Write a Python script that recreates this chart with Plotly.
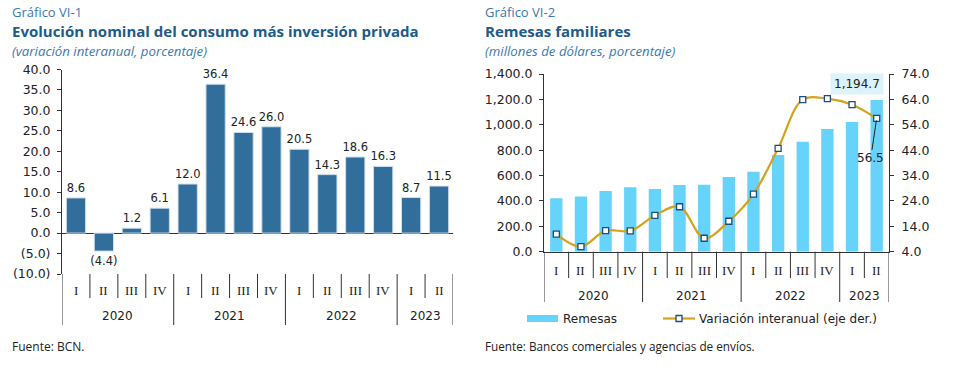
import plotly.graph_objects as go

# ---------------- data ----------------
quarters = ["I", "II", "III", "IV", "I", "II", "III", "IV", "I", "II", "III", "IV", "I", "II"]
years = ["2020", "2021", "2022", "2023"]
year_counts = [4, 4, 4, 2]

consumo_inversion = [8.6, -4.4, 1.2, 6.1, 12.0, 36.4, 24.6, 26.0, 20.5, 14.3, 18.6, 16.3, 8.7, 11.5]

remesas = [421, 434, 478, 507, 494, 526, 527, 589, 630, 762, 867, 967, 1022, 1194.7]
variacion = [10.9, 6.0, 12.3, 12.2, 18.3, 21.7, 9.3, 16.0, 26.7, 44.7, 63.9, 64.3, 61.9, 56.5]

left_ticks = [-10, -5, 0, 5, 10, 15, 20, 25, 30, 35, 40]
rem_ticks = [0, 200, 400, 600, 800, 1000, 1200, 1400]
var_ticks = [4, 14, 24, 34, 44, 54, 64, 74]

series_names = ["Remesas", "Variación interanual (eje der.)"]

# ---------------- helpers ----------------
W, H = 961, 370


def fx(px):
    return px / W


def fy(py):
    return 1 - py / H


def paren(v):
    return f"({abs(v):.1f})" if v < 0 else f"{v:.1f}"


idx = list(range(len(quarters)))

TITLE_BLUE = "#1d5b8a"
LIGHT_BLUE = "#3b78b0"
AXIS = "#333333"
TXT = "#222222"
BAR_L = "#326e9c"
BAR_R = "#66d3fb"
LINE_C = "#d4a21b"
MARK_C = "#1f4e79"
TITLE_FONT = "Open Sans"

fig = go.Figure()

# Left chart bars
fig.add_trace(go.Bar(
    x=idx, y=consumo_inversion, xaxis="x", yaxis="y",
    width=0.69,
    marker=dict(color=BAR_L, line=dict(color="#cfe0ee", width=1)),
    text=[paren(v) for v in consumo_inversion],
    textposition="outside", constraintext="none", cliponaxis=False,
    textfont=dict(family="DejaVu Sans", size=11.5, color=TXT),
    showlegend=False, hoverinfo="skip",
))

# Right chart bars
fig.add_trace(go.Bar(
    x=idx, y=remesas, xaxis="x2", yaxis="y2",
    width=0.5, name=series_names[0],
    marker=dict(color=BAR_R, line=dict(width=0)),
    showlegend=False, hoverinfo="skip",
))

# Right chart line
fig.add_trace(go.Scatter(
    x=idx, y=variacion, xaxis="x2", yaxis="y3",
    mode="lines+markers", name=series_names[1],
    line=dict(color=LINE_C, width=2.2, shape="spline", smoothing=1.0),
    marker=dict(symbol="square", size=6, color="white",
                line=dict(color=MARK_C, width=1.3)),
    showlegend=False, hoverinfo="skip", cliponaxis=False,
))

annotations = []
shapes = []


# ---------- category labels & separators ----------
def cat_axis(xref, q_y, y_y, top_y, q_bot, y_bot):
    bounds_year = {-0.5}
    s = 0
    for c in year_counts:
        s += c
        bounds_year.add(s - 0.5)
    for i, q in enumerate(quarters):
        annotations.append(dict(
            x=i, y=fy(q_y), xref=xref, yref="paper", text=q, showarrow=False,
            font=dict(family="Liberation Serif", size=13, color=TXT),
            xanchor="center", yanchor="middle"))
    s = 0
    for yr, c in zip(years, year_counts):
        annotations.append(dict(
            x=s + (c - 1) / 2, y=fy(y_y), xref=xref, yref="paper", text=yr,
            showarrow=False, font=dict(family="DejaVu Sans", size=12, color=TXT),
            xanchor="center", yanchor="middle"))
        s += c
    for b in [i - 0.5 for i in range(len(quarters) + 1)]:
        bot = y_bot if b in bounds_year else q_bot
        shapes.append(dict(type="line", xref=xref, yref="paper",
                           x0=b, x1=b, y0=fy(top_y), y1=fy(bot),
                           line=dict(color=AXIS, width=1)))


cat_axis("x", 290, 316, 274, 298, 325)
cat_axis("x2", 270.5, 295.5, 251.7, 278, 302)


# ---------- titles ----------
def titles(px, small, big, sub):
    annotations.append(dict(x=fx(px), y=fy(12), xref="paper", yref="paper",
                            text=small, showarrow=False, xanchor="left", yanchor="middle",
                            font=dict(family=TITLE_FONT, size=13, color=LIGHT_BLUE)))
    annotations.append(dict(x=fx(px), y=fy(31), xref="paper", yref="paper",
                            text=f"<b>{big}</b>", showarrow=False, xanchor="left", yanchor="middle",
                            font=dict(family=TITLE_FONT, size=15, color=TITLE_BLUE)))
    annotations.append(dict(x=fx(px), y=fy(51), xref="paper", yref="paper",
                            text=f"<i>{sub}</i>", showarrow=False, xanchor="left", yanchor="middle",
                            font=dict(family=TITLE_FONT, size=13.25, color=LIGHT_BLUE)))


titles(10, "Gráfico VI-1", "Evolución nominal del consumo más inversión privada",
       "(variación interanual, porcentaje)")
titles(483, "Gráfico VI-2", "Remesas familiares", "(millones de dólares, porcentaje)")

annotations.append(dict(x=fx(10), y=fy(346), xref="paper", yref="paper", text="Fuente: BCN.",
                        showarrow=False, xanchor="left", yanchor="middle",
                        font=dict(family=TITLE_FONT, size=12, color=TXT)))
annotations.append(dict(x=fx(483), y=fy(346), xref="paper", yref="paper",
                        text="Fuente: Bancos comerciales y agencias de envíos.",
                        showarrow=False, xanchor="left", yanchor="middle",
                        font=dict(family=TITLE_FONT, size=11.75, color=TXT)))

# ---------- value callouts on right chart ----------
last = len(quarters) - 1
annotations.append(dict(x=last, y=remesas[last], xref="x2", yref="y2",
                        text=f"{remesas[last]:,.1f}", showarrow=False,
                        xanchor="center", yanchor="bottom", xshift=-20, yshift=5,
                        bgcolor="#dcf3fc", borderpad=3,
                        font=dict(family="DejaVu Sans", size=12, color=TXT)))
annotations.append(dict(x=last, y=variacion[last], xref="x2", yref="y3",
                        text=f"{variacion[last]:.1f}", showarrow=True,
                        arrowhead=0, arrowwidth=1, arrowcolor="#222222",
                        ax=-6, ay=40, standoff=2,
                        font=dict(family="DejaVu Sans", size=12, color=TXT)))

# ---------- legend (manual, right chart) ----------
LEG_Y = 318.5
shapes.append(dict(type="rect", xref="paper", yref="paper",
                   x0=fx(527), x1=fx(558), y0=fy(LEG_Y + 3.5), y1=fy(LEG_Y - 3.5),
                   fillcolor=BAR_R, line=dict(width=0)))
annotations.append(dict(x=fx(561), y=fy(LEG_Y), xref="paper", yref="paper",
                        text=series_names[0], showarrow=False, xanchor="left", yanchor="middle",
                        font=dict(family="DejaVu Sans", size=12, color=TXT)))
shapes.append(dict(type="line", xref="paper", yref="paper",
                   x0=fx(663), x1=fx(695), y0=fy(LEG_Y), y1=fy(LEG_Y),
                   line=dict(color=LINE_C, width=2.2)))
shapes.append(dict(type="rect", xref="paper", yref="paper",
                   x0=fx(676), x1=fx(682), y0=fy(LEG_Y + 3), y1=fy(LEG_Y - 3),
                   fillcolor="white", line=dict(color=MARK_C, width=1.3)))
annotations.append(dict(x=fx(697), y=fy(LEG_Y), xref="paper", yref="paper",
                        text=series_names[1], showarrow=False, xanchor="left", yanchor="middle",
                        font=dict(family="DejaVu Sans", size=12, color=TXT)))

fig.update_layout(
    width=W, height=H,
    margin=dict(l=0, r=0, t=0, b=0, autoexpand=False),
    paper_bgcolor="white", plot_bgcolor="white",
    barmode="overlay", showlegend=False,
    xaxis=dict(domain=[fx(62), fx(453)], range=[-0.5, 13.5],
               showticklabels=False, showgrid=False, zeroline=False, showline=False,
               fixedrange=True),
    yaxis=dict(domain=[fy(274), fy(69.5)], range=[-10, 40],
               tickvals=left_ticks, ticktext=[paren(v) for v in left_ticks],
               showgrid=False, zeroline=True, zerolinecolor=AXIS, zerolinewidth=1,
               showline=True, linecolor=AXIS, linewidth=1,
               ticks="outside", ticklen=4, tickcolor=AXIS, ticklabelstandoff=4,
               tickfont=dict(family="DejaVu Sans", size=12.5, color=TXT)),
    xaxis2=dict(domain=[fx(544), fx(889)], range=[-0.5, 13.5], anchor="y2",
                showticklabels=False, showgrid=False, zeroline=False,
                showline=True, linecolor=AXIS, linewidth=1),
    yaxis2=dict(domain=[fy(251.7), fy(74)], range=[0, 1400], anchor="x2",
                tickvals=rem_ticks, ticktext=[f"{v:,.1f}" for v in rem_ticks],
                showgrid=False, zeroline=False,
                showline=True, linecolor=AXIS, linewidth=1,
                ticks="outside", ticklen=4, tickcolor=AXIS, ticklabelstandoff=4,
                tickfont=dict(family="DejaVu Sans", size=12.5, color=TXT)),
    yaxis3=dict(range=[4, 74], overlaying="y2", side="right", anchor="x2",
                tickvals=var_ticks, ticktext=[f"{v:.1f}" for v in var_ticks],
                showgrid=False, zeroline=False,
                showline=True, linecolor=AXIS, linewidth=1,
                ticks="outside", ticklen=4, tickcolor=AXIS, ticklabelstandoff=5,
                tickfont=dict(family="DejaVu Sans", size=12.5, color=TXT)),
    annotations=annotations,
    shapes=shapes,
)

fig.write_html("out.html", config={"displayModeBar": False},
               post_script="document.body.style.margin='0';")
